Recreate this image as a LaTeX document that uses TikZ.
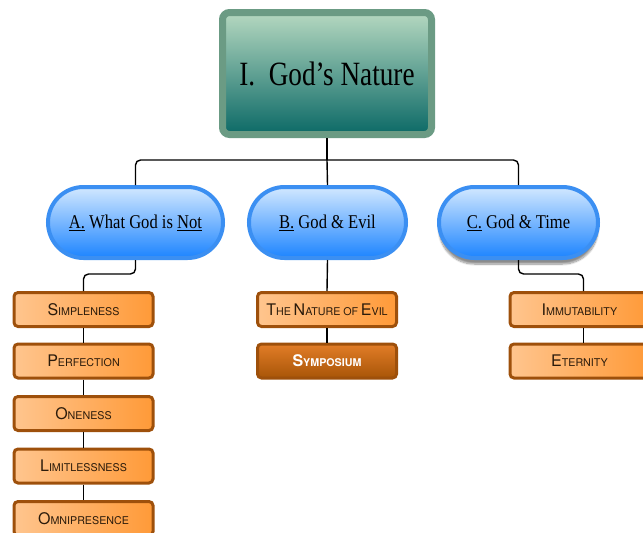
\documentclass[tikz,border=0pt]{standalone}
\usepackage{fontspec}
\usepackage{graphicx}
\setmainfont{Liberation Serif}
\newfontfamily\heros{TeX Gyre Heros}
\usetikzlibrary{shapes.misc,shadows.blur}

\definecolor{titleborder}{HTML}{6B9B84}
\definecolor{teallight}{HTML}{B5D8C0}
\definecolor{tealmid}{HTML}{55A196}
\definecolor{tealdark}{HTML}{0B6966}
\definecolor{pillborder}{HTML}{3B8FF2}
\definecolor{pilltop}{HTML}{D2E8FF}
\definecolor{pillmid}{HTML}{79B9FF}
\definecolor{pillbot}{HTML}{1C84FF}
\definecolor{orborder}{HTML}{9E500B}
\definecolor{orleft}{HTML}{FFC58E}
\definecolor{orright}{HTML}{FF9A38}
\definecolor{ortext}{HTML}{2B1B0B}
\definecolor{symtop}{HTML}{E27D28}
\definecolor{symbot}{HTML}{A85507}

% small-caps imitation: large initial, smaller capitals
\newcommand{\capsc}[2]{{\fontsize{16}{18}\selectfont #1}{\fontsize{10.7}{12}\selectfont #2}}
\newcommand{\pilltext}[1]{\scalebox{0.85}[1]{\fontsize{19.5}{22}\selectfont #1}}

\tikzset{
  titlebox/.style={draw=titleborder, line width=7pt, rounded corners=7pt,
    top color=teallight, middle color=tealmid, bottom color=tealdark,
    minimum width=209pt, minimum height=122pt, inner sep=0pt},
  pill/.style={rounded rectangle, draw=pillborder, line width=4pt,
    top color=pilltop, middle color=pillmid, bottom color=pillbot,
    minimum height=71pt, inner sep=0pt},
  leafbase/.style={draw=orborder, line width=3pt, rounded corners=4pt,
    minimum width=139pt, minimum height=34pt, inner sep=0pt},
  leaf/.style={leafbase, left color=orleft, right color=orright,
    text=ortext, font=\heros},
  leafdark/.style={leafbase, top color=symtop, bottom color=symbot,
    text=white, font=\heros\bfseries},
  conn/.style={line width=1.4pt, rounded corners=5pt, black},
}

\begin{document}
\begin{tikzpicture}[x=1pt, y=-1pt]
  \useasboundingbox (0,0) rectangle (643,533);

  % title
  \node[titlebox] (top) at (327,73.5)
    {\scalebox{0.8}[1]{\fontsize{34}{40}\selectfont I.\ \ God’s Nature}};

  % section pills
  \node[pill, minimum width=175pt] (A) at (135.5,222.5)
    {\pilltext{\underline{A.} What God is \underline{Not}}};
  \node[pill, minimum width=157pt] (B) at (327.5,222.5)
    {\pilltext{\underline{B.} God \& Evil}};
  \node[pill, minimum width=159pt,
    blur shadow={shadow xshift=0pt, shadow yshift=-6pt, shadow blur steps=10, shadow opacity=45}]
    (C) at (518.5,222.5)
    {\pilltext{\underline{C.} God \& Time}};

  % topic boxes
  \node[leaf] (s1) at (83.5,309.5) {\capsc{S}{IMPLENESS}};
  \node[leaf] (s2) at (83.5,361)   {\capsc{P}{ERFECTION}};
  \node[leaf] (s3) at (83.5,413.5) {\capsc{O}{NENESS}};
  \node[leaf] (s4) at (83.5,466)   {\capsc{L}{IMITLESSNESS}};
  \node[leaf] (s5) at (83.5,518.5) {\capsc{O}{MNIPRESENCE}};

  \node[leaf] (e1) at (327,309.5)
    {\capsc{T}{HE} \capsc{N}{ATURE} {\fontsize{10.7}{12}\selectfont OF} \capsc{E}{VIL}};
  \node[leafdark] (e2) at (327,361) {\capsc{S}{YMPOSIUM}};

  \node[leaf] (t1) at (579.5,309.5) {\capsc{I}{MMUTABILITY}};
  \node[leaf] (t2) at (579.5,361)   {\capsc{E}{TERNITY}};

  % connectors
  \draw[conn] (top.south) -- ++(0,22) coordinate (hub);
  \draw[conn] (A.north) |- (hub) -| (C.north);
  \draw[conn] (hub) -- (B.north);

  \draw[conn] (A.south) -- ++(0,14) -| (s1.north);
  \draw[conn] (s1.south) -- (s2.north) (s2.south) -- (s3.north)
              (s3.south) -- (s4.north) (s4.south) -- (s5.north);

  \draw[conn] (B.south) -- (e1.north);
  \draw[conn] (e1.south) -- (e2.north);

  \draw[conn] (C.south) -- ++(0,14) -| ([xshift=4pt]t1.north);
  \draw[conn] ([xshift=4pt]t1.south) -- ([xshift=4pt]t2.north);
\end{tikzpicture}
\end{document}
